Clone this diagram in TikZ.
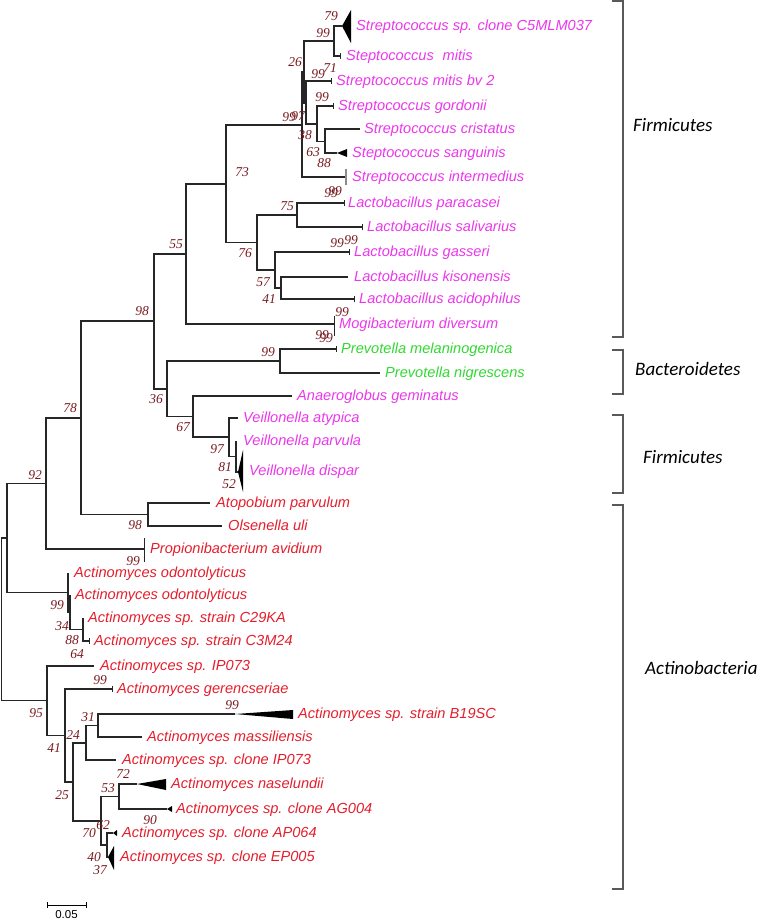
\documentclass[tikz,border=0pt]{standalone}
\usepackage{fontspec}
\setmainfont{Liberation Sans}
\newfontfamily\bsfont{Liberation Serif}
\newfontfamily\grpfont{Carlito}
\definecolor{fmag}{RGB}{235,55,235}
\definecolor{bgreen}{RGB}{50,215,50}
\definecolor{ared}{RGB}{228,30,45}
\definecolor{bsred}{RGB}{120,25,30}
\begin{document}
\begin{tikzpicture}[x=1pt,y=-1pt,
  br/.style={line width=1.1pt, draw=black!85},
  tick/.style={line width=0.9pt, draw=black!85},
  tri/.style={fill=black},
  tax/.style={anchor=west, inner sep=0pt, font=\fontsize{14.6}{16}\selectfont\itshape, text height=12pt, text depth=3pt},
  bs/.style={inner sep=0pt, font=\bsfont\fontsize{13.5}{13.5}\selectfont\itshape, text=bsred},
  grp/.style={anchor=west, inner sep=0pt, font=\grpfont\fontsize{19}{20}\selectfont\itshape},
  bracket/.style={line width=1.3pt, draw=black!65}]
\useasboundingbox (0,0) rectangle (761,920);
% ---------- internal nodes ----------
\coordinate (root) at (1.5,619);
\coordinate (nA) at (7,538);
\coordinate (n92) at (46,483.5);
\coordinate (n78) at (81,418);
\coordinate (n98) at (154,321);
\coordinate (n55) at (186,254);
\coordinate (n73) at (226,184);
\coordinate (S1) at (302,125);
\coordinate (S2) at (304,72);
\coordinate (S79) at (334,41);
\coordinate (S3) at (306,103);
\coordinate (n38) at (317,124);
\coordinate (n63) at (325,141.5);
\coordinate (n76) at (257,242.5);
\coordinate (n75) at (297,215);
\coordinate (n57) at (275,270);
\coordinate (n41) at (281,288);
\coordinate (n36) at (167,389);
\coordinate (nPr) at (280,361);
\coordinate (n67) at (193,416.5);
\coordinate (n97) at (229,437);
\coordinate (n81) at (236,456.5);
\coordinate (nAO) at (148,514.5);
\coordinate (nO1) at (68,592.5);
\coordinate (nO2) at (70,612);
\coordinate (nO3) at (83,629.5);
\coordinate (n95) at (47,700.75);
\coordinate (n41b) at (65,735.5);
\coordinate (n25) at (73,782);
\coordinate (n24) at (86,743);
\coordinate (n31) at (98,725.5);
\coordinate (n62) at (101,821);
\coordinate (n53) at (119,796.5);
\coordinate (n40) at (107,845);
% ---------- leaf ends ----------
\coordinate (l1) at (342,26);
\coordinate (l2) at (340,56);
\coordinate (l3) at (331,81);
\coordinate (l4) at (333,106);
\coordinate (l5) at (360,129);
\coordinate (l6) at (337,153);
\coordinate (l7) at (346,177);
\coordinate (l8) at (344,203);
\coordinate (l9) at (362,227);
\coordinate (l10) at (349,252);
\coordinate (l11) at (348,277);
\coordinate (l12) at (354,299);
\coordinate (l13) at (334,324);
\coordinate (l14) at (336,349);
\coordinate (l15) at (380,373);
\coordinate (l16) at (292,396);
\coordinate (l17) at (238,418);
\coordinate (l18) at (236,441);
\coordinate (l19) at (238,472);
\coordinate (l20) at (210,503);
\coordinate (l21) at (222,526);
\coordinate (l22) at (144,549);
\coordinate (l23) at (68,573);
\coordinate (l24) at (70,595);
\coordinate (l25) at (83,618);
\coordinate (l26) at (89,641);
\coordinate (l27) at (94,666);
\coordinate (l28) at (112,689);
\coordinate (l29) at (235,714);
\coordinate (l30) at (142,737);
\coordinate (l31) at (116,760);
\coordinate (l32) at (137,784);
\coordinate (l33) at (167,809);
\coordinate (l34) at (113,833);
\coordinate (l35) at (108,857);
% ---------- branches ----------
\draw[br] (root) |- (nA);   \draw[br] (root) |- (n95);
\draw[br] (nA) |- (n92);    \draw[br] (nA) |- (nO1);
\draw[br] (n92) |- (n78);   \draw[br] (n92) |- (l22);
\draw[br] (n78) |- (n98);   \draw[br] (n78) |- (nAO);
\draw[br] (n98) |- (n55);   \draw[br] (n98) |- (n36);
\draw[br] (n55) |- (n73);   \draw[br] (n55) |- (l13);
\draw[br] (n73) |- (S1);    \draw[br] (n73) |- (n76);
\draw[br] (S1) |- (S2);     \draw[br] (S1) |- (l7);
\draw[br] (S2) |- (S79);    \draw[br] (S2) |- (S3);
\draw[br] (S79) |- (l1);    \draw[br] (S79) |- (l2);
\draw[br] (S3) |- (l3);     \draw[br] (S3) |- (n38);
\draw[br] (n38) |- (l4);    \draw[br] (n38) |- (n63);
\draw[br] (n63) |- (l5);    \draw[br] (n63) |- (l6);
\draw[br] (n76) |- (n75);   \draw[br] (n76) |- (n57);
\draw[br] (n75) |- (l8);    \draw[br] (n75) |- (l9);
\draw[br] (n57) |- (l10);   \draw[br] (n57) |- (n41);
\draw[br] (n41) |- (l11);   \draw[br] (n41) |- (l12);
\draw[br] (n36) |- (nPr);   \draw[br] (n36) |- (n67);
\draw[br] (nPr) |- (l14);   \draw[br] (nPr) |- (l15);
\draw[br] (n67) |- (l16);   \draw[br] (n67) |- (n97);
\draw[br] (n97) |- (l17);   \draw[br] (n97) |- (n81);
\draw[br] (n81) |- (l18);   \draw[br] (n81) |- (l19);
\draw[br] (nAO) |- (l20);   \draw[br] (nAO) |- (l21);
\draw[br] (nO1) |- (l23);   \draw[br] (nO1) |- (nO2);
\draw[br] (nO2) |- (l24);   \draw[br] (nO2) |- (nO3);
\draw[br] (nO3) |- (l25);   \draw[br] (nO3) |- (l26);
\draw[br] (n95) |- (l27);   \draw[br] (n95) |- (n41b);
\draw[br] (n41b) |- (l28);  \draw[br] (n41b) |- (n25);
\draw[br] (n25) |- (n24);   \draw[br] (n25) |- (n62);
\draw[br] (n24) |- (n31);   \draw[br] (n24) |- (l31);
\draw[br] (n31) |- (l29);   \draw[br] (n31) |- (l30);
\draw[br] (n62) |- (n53);   \draw[br] (n62) |- (n40);
\draw[br] (n53) |- (l32);   \draw[br] (n53) |- (l33);
\draw[br] (n40) |- (l34);   \draw[br] (n40) |- (l35);
% ---------- collapsed clades (triangles) and ticks ----------
\fill[tri] (l1) -- (351,10) -- (351,43) -- cycle;
\fill[tri] (l6) -- (347,149) -- (347,157) -- cycle;
\fill[tri] (l19) -- (243,450) -- (243,492) -- cycle;
\fill[tri] (l29) -- (293,710) -- (293,719) -- cycle;
\fill[tri] (l32) -- (166,779) -- (166,790) -- cycle;
\fill[tri] (l33) -- (172,806) -- (172,812) -- cycle;
\fill[tri] (l34) -- (117,830) -- (117,836) -- cycle;
\fill[tri] (l35) -- (114,846) -- (114,870) -- cycle;
\foreach \l in {l2,l3,l4,l8,l9,l10,l12,l14,l26,l28}
  \draw[tick] ([yshift=3pt]\l) -- ([yshift=-3pt]\l);
\draw[tick, draw=black!45, line width=1.4pt] ([yshift=8pt]l7) -- ([yshift=-8pt]l7);
\draw[tick] ([yshift=8pt]l13) -- ([yshift=-12pt]l13);
\draw[tick] ([yshift=11pt]l22) -- ([yshift=-13pt]l22);
% ---------- taxa ----------
\node[tax, text=fmag] (t1) at (356,26) {Streptococcus sp. clone C5MLM037};
\node[tax, text=fmag] (t2) at (346,56) {Steptococcus\hspace{0.6em}mitis};
\node[tax, text=fmag] (t3) at (336,81) {Streptococcus mitis bv 2};
\node[tax, text=fmag] (t4) at (338,106) {Streptococcus gordonii};
\node[tax, text=fmag] (t5) at (364,129) {Streptococcus cristatus};
\node[tax, text=fmag] (t6) at (352,153) {Steptococcus sanguinis};
\node[tax, text=fmag] (t7) at (352,177) {Streptococcus intermedius};
\node[tax, text=fmag] (t8) at (348,203) {Lactobacillus paracasei};
\node[tax, text=fmag] (t9) at (367,227) {Lactobacillus salivarius};
\node[tax, text=fmag] (t10) at (354,252) {Lactobacillus gasseri};
\node[tax, text=fmag] (t11) at (354,277) {Lactobacillus kisonensis};
\node[tax, text=fmag] (t12) at (359,299) {Lactobacillus acidophilus};
\node[tax, text=fmag] (t13) at (339,324) {Mogibacterium diversum};
\node[tax, text=bgreen] (t14) at (341,349) {Prevotella melaninogenica};
\node[tax, text=bgreen] (t15) at (385,373) {Prevotella nigrescens};
\node[tax, text=fmag] (t16) at (297,396) {Anaeroglobus geminatus};
\node[tax, text=fmag] (t17) at (243,418) {Veillonella atypica};
\node[tax, text=fmag] (t18) at (243,441) {Veillonella parvula};
\node[tax, text=fmag] (t19) at (249,471) {Veillonella dispar};
\node[tax, text=ared] (t20) at (216,503) {Atopobium parvulum};
\node[tax, text=ared] (t21) at (228,526) {Olsenella uli};
\node[tax, text=ared] (t22) at (150,549) {Propionibacterium avidium};
\node[tax, text=ared] (t23) at (74,573) {Actinomyces odontolyticus};
\node[tax, text=ared] (t24) at (75,595) {Actinomyces odontolyticus};
\node[tax, text=ared] (t25) at (88,618) {Actinomyces sp. strain C29KA};
\node[tax, text=ared] (t26) at (94,641) {Actinomyces sp. strain C3M24};
\node[tax, text=ared] (t27) at (100,666) {Actinomyces sp. IP073};
\node[tax, text=ared] (t28) at (117,689) {Actinomyces gerencseriae};
\node[tax, text=ared] (t29) at (298,714) {Actinomyces sp. strain B19SC};
\node[tax, text=ared] (t30) at (147,737) {Actinomyces massiliensis};
\node[tax, text=ared] (t31) at (122,760) {Actinomyces sp. clone IP073};
\node[tax, text=ared] (t32) at (171,784) {Actinomyces naselundii};
\node[tax, text=ared] (t33) at (176,809) {Actinomyces sp. clone AG004};
\node[tax, text=ared] (t34) at (122,833) {Actinomyces sp. clone AP064};
\node[tax, text=ared] (t35) at (120,857) {Actinomyces sp. clone EP005};
% ---------- bootstrap values ----------
\node[bs] (b1) at (331,16) {79};
\node[bs] (b2) at (323,33) {99};
\node[bs] (b3) at (295,62) {26};
\node[bs] (b4) at (318,74) {99};
\node[bs] (b5) at (330,68) {71};
\node[bs] (b6) at (322,97) {99};
\node[bs] (b7) at (289,117) {99};
\node[bs] (b8) at (298,116) {97};
\node[bs] (b9) at (305,135) {38};
\node[bs] (b10) at (313,152) {63};
\node[bs] (b11) at (324,163) {88};
\node[bs] (b12) at (331,193) {99};
\node[bs] (b13) at (335,191) {99};
\node[bs] (b14) at (242,172) {73};
\node[bs] (b15) at (287,206) {75};
\node[bs] (b16) at (245,253) {76};
\node[bs] (b17) at (337,243) {99};
\node[bs] (b18) at (351,240) {99};
\node[bs] (b19) at (263,282) {57};
\node[bs] (b20) at (269,299) {41};
\node[bs] (b21) at (176,244) {55};
\node[bs] (b22) at (342,312) {99};
\node[bs] (b23) at (322,335) {99};
\node[bs] (b24) at (326,338) {99};
\node[bs] (b25) at (268,352) {99};
\node[bs] (b26) at (142,311) {98};
\node[bs] (b27) at (70,408) {78};
\node[bs] (b28) at (35,475) {92};
\node[bs] (b29) at (156,399) {36};
\node[bs] (b30) at (183,427) {67};
\node[bs] (b31) at (217,449) {97};
\node[bs] (b32) at (225,467) {81};
\node[bs] (b33) at (229,484) {52};
\node[bs] (b34) at (135,525) {98};
\node[bs] (b35) at (133,561) {99};
\node[bs] (b36) at (57,605) {99};
\node[bs] (b37) at (62,626) {34};
\node[bs] (b38) at (72,640) {88};
\node[bs] (b39) at (77,654) {64};
\node[bs] (b40) at (100,680) {99};
\node[bs] (b41) at (232,705) {99};
\node[bs] (b42) at (88,717) {31};
\node[bs] (b43) at (73,735) {24};
\node[bs] (b44) at (36,713) {95};
\node[bs] (b45) at (54,748) {41};
\node[bs] (b46) at (62,795) {25};
\node[bs] (b47) at (123,774) {72};
\node[bs] (b48) at (108,788) {53};
\node[bs] (b49) at (150,820) {90};
\node[bs] (b50) at (103,825) {62};
\node[bs] (b51) at (89,833) {70};
\node[bs] (b52) at (94,857) {40};
\node[bs] (b53) at (100,870) {37};
% ---------- group brackets ----------
\draw[bracket] (612,1) -- (623,1) -- (623,337) -- (612,337);
\node[grp] (g1) at (633,125) {Firmicutes};
\draw[bracket] (612,350) -- (623,350) -- (623,394) -- (612,394);
\node[grp] (g2) at (635,369) {Bacteroidetes};
\draw[bracket] (612,415) -- (623,415) -- (623,493) -- (612,493);
\node[grp] (g3) at (643,457) {Firmicutes};
\draw[bracket] (612,505) -- (623,505) -- (623,889) -- (612,889);
\node[grp] (g4) at (645,668) {Actinobacteria};
% ---------- scale bar ----------
\coordinate (sb1) at (47,905);
\coordinate (sb2) at (86,905);
\draw[line width=1pt] (sb1) -- (sb2);
\draw[line width=1pt] ([yshift=3pt]sb1) -- ([yshift=-3pt]sb1);
\draw[line width=1pt] ([yshift=3pt]sb2) -- ([yshift=-3pt]sb2);
\node[inner sep=0pt, font=\fontsize{11.5}{11.5}\selectfont] (sbl) at (66.5,915) {0.05};
\end{tikzpicture}
\end{document}
